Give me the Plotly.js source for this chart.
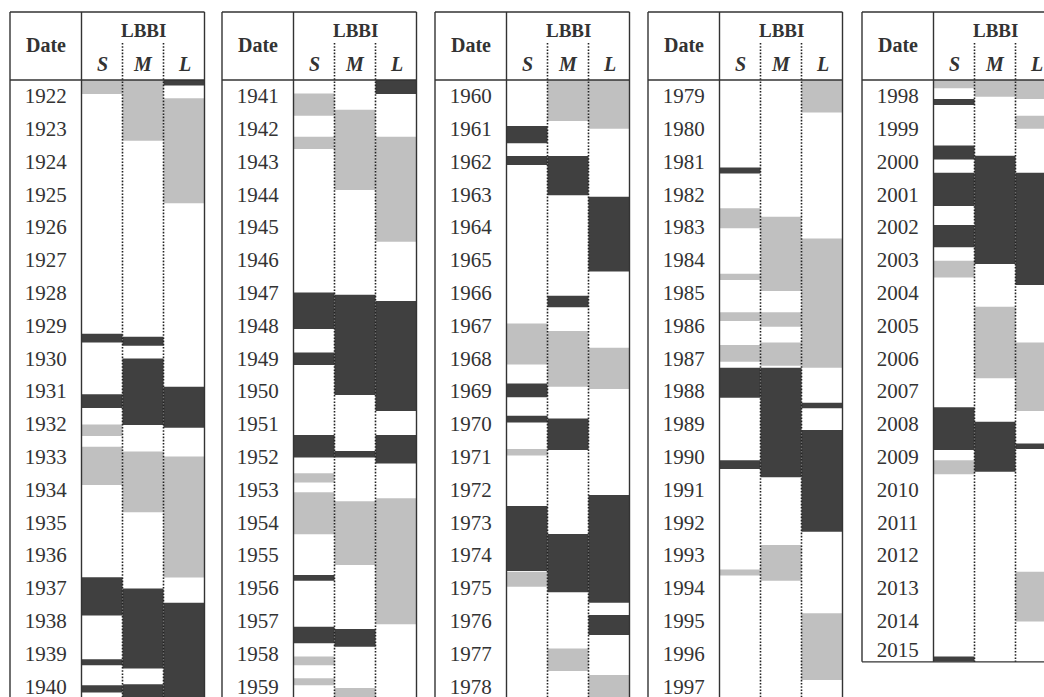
<!DOCTYPE html>
<html>
<head>
<meta charset="utf-8">
<script src="https://cdn.plot.ly/plotly-3.0.1.min.js"></script>
<style>
  html, body { margin: 0; padding: 0; overflow: hidden; background: #fff; }
  #chart { width: 1064px; height: 710px; }
</style>
</head>
<body>
<div id="chart"></div>
<script>
// LBBI episodes per time scale (S, M, L), as [start, end] in decimal years.
const sDark = [[1929.74,1930.00],[1931.58,1932.00],[1937.16,1938.33],[1939.66,1939.84],[1940.45,1940.67],
  [1947.48,1948.59],[1949.31,1949.69],[1951.82,1952.51],[1956.09,1956.27],[1957.67,1958.17],
  [1961.40,1961.93],[1962.32,1962.59],[1969.25,1969.67],[1970.24,1970.44],[1972.99,1974.97],
  [1981.67,1981.85],[1987.77,1988.69],[1990.59,1990.86],
  [1998.58,1998.76],[2000.00,2000.42],[2000.83,2001.84],[2002.42,2003.10],[2007.98,2009.28],[2015.58,2015.74]];
const sLight = [[1922.00,1922.43],[1932.50,1932.85],[1933.18,1934.35],
  [1941.41,1942.09],[1942.73,1943.10],[1952.99,1953.27],[1953.57,1954.85],[1958.58,1958.84],[1959.24,1959.45],
  [1967.42,1968.67],[1971.25,1971.45],[1974.99,1975.45],
  [1982.91,1983.52],[1984.91,1985.10],[1986.08,1986.35],[1987.08,1987.59],[1993.92,1994.11],
  [1998.00,1998.25],[2003.51,2004.02],[2009.59,2010.02]];
const mDark = [[1929.83,1930.10],[1930.49,1932.52],[1937.50,1939.94],[1940.42,1940.95],
  [1947.55,1950.60],[1952.31,1952.51],[1957.74,1958.28],
  [1962.32,1963.51],[1966.58,1966.93],[1970.32,1971.28],[1973.84,1975.62],
  [1987.77,1991.11],[2000.31,2003.61],[2008.42,2009.94]];
const mLight = [[1922.00,1923.85],[1933.33,1935.18],[1941.91,1944.35],[1953.84,1955.79],[1959.54,1961.25],
  [1967.65,1969.35],[1977.33,1978.02],[1983.17,1985.43],[1986.08,1986.52],[1987.00,1987.71],[1993.18,1994.27],
  [1998.00,1998.51],[2004.91,2007.09]];
const lDark = [[1922.00,1922.17],[1931.35,1932.60],[1937.94,1941.43],[1947.74,1951.09],[1951.82,1952.69],
  [1963.56,1965.84],[1972.65,1975.94],[1976.31,1976.92],[1988.84,1989.01],[1989.67,1992.77],
  [2000.83,2004.25],[2009.08,2009.25]];
const lLight = [[1922.56,1925.76],[1933.48,1937.17],[1942.73,1945.93],[1953.75,1957.59],[1960.00,1961.49],
  [1968.16,1969.42],[1978.14,1979.99],[1983.83,1987.77],[1995.26,1997.29],
  [1998.00,1998.58],[1999.09,1999.49],[2006.00,2008.09],[2012.99,2014.51]];

// Row labels of the five table blocks
const years1 = [1922,1923,1924,1925,1926,1927,1928,1929,1930,1931,1932,1933,1934,1935,1936,1937,1938,1939,1940];
const years2 = [1941,1942,1943,1944,1945,1946,1947,1948,1949,1950,1951,1952,1953,1954,1955,1956,1957,1958,1959];
const years3 = [1960,1961,1962,1963,1964,1965,1966,1967,1968,1969,1970,1971,1972,1973,1974,1975,1976,1977,1978];
const years4 = [1979,1980,1981,1982,1983,1984,1985,1986,1987,1988,1989,1990,1991,1992,1993,1994,1995,1996,1997];
const years5 = [1998,1999,2000,2001,2002,2003,2004,2005,2006,2007,2008,2009,2010,2011,2012,2013,2014,2015];
const recordEnd = 2015.74;   // last month covered by the series

const scales = ['S', 'M', 'L'];
const header = 'LBBI';
const dateHeader = 'Date';

// ---- geometry (pixels) ----
const W = 1064, H = 710;
const px = v => v / W;
const py = v => 1 - v / H;
const panelLeft = [10, 222, 435, 648, 862];
const dateW = 71.5, colW = 41;
const topY = 12, headY = 80, dotTop = 43, rowH = 32.8;
const labelShift = 0.05;     // nudges a year label just below the middle of its row

const DARK = '#404040', LIGHT = '#c0c0c0', INK = '#333333';
const FONT = 'Liberation Serif, Times New Roman, serif';

const blocks = [years1, years2, years3, years4, years5];
const series = [
  {col: 'S', segs: sLight, color: LIGHT}, {col: 'S', segs: sDark, color: DARK},
  {col: 'M', segs: mLight, color: LIGHT}, {col: 'M', segs: mDark, color: DARK},
  {col: 'L', segs: lLight, color: LIGHT}, {col: 'L', segs: lDark, color: DARK}
];

const traces = [];
const layout = {
  width: W, height: H,
  margin: {l: 0, r: 0, t: 0, b: 0},
  paper_bgcolor: '#fff', plot_bgcolor: 'rgba(0,0,0,0)',
  showlegend: false, barmode: 'overlay',
  shapes: [], annotations: []
};

blocks.forEach((yrs, p) => {
  const start = yrs[0];
  const end = (p === blocks.length - 1) ? recordEnd : start + yrs.length;
  const L = panelLeft[p], D = L + dateW, R = D + 3 * colW;
  const bottom = headY + (end - start) * rowH;

  const yId = p === 0 ? '' : String(p + 1);
  const xDateId = 2 * p + 1 === 1 ? '' : String(2 * p + 1);
  const xDataId = String(2 * p + 2);

  layout['yaxis' + yId] = {
    domain: [py(bottom), py(headY)], range: [end, start],
    anchor: 'x' + xDataId, visible: false, fixedrange: true
  };
  layout['xaxis' + xDateId] = {
    domain: [px(L), px(D)], range: [0, 1], anchor: 'y' + yId, visible: false, fixedrange: true
  };
  layout['xaxis' + xDataId] = {
    domain: [px(D), px(R)], type: 'category', categoryorder: 'array', categoryarray: scales,
    range: [-0.5, 2.5], anchor: 'y' + yId, visible: false, fixedrange: true
  };

  // shaded episodes
  series.forEach(s => {
    const segs = s.segs.filter(g => g[1] > start && g[0] < end);
    if (!segs.length) return;
    traces.push({
      type: 'bar', xaxis: 'x' + xDataId, yaxis: 'y' + yId,
      x: segs.map(() => s.col),
      base: segs.map(g => g[0]),
      y: segs.map(g => g[1] - g[0]),
      width: 1, marker: {color: s.color, line: {width: 0}},
      hoverinfo: 'skip'
    });
  });

  // year labels in the Date column, centred on the covered part of each row
  traces.push({
    type: 'scatter', mode: 'text', xaxis: 'x' + xDateId, yaxis: 'y' + yId,
    x: yrs.map(() => 0.5),
    y: yrs.map(v => (v + Math.min(v + 1, end)) / 2 + labelShift),
    text: yrs.map(String),
    textposition: 'middle center', cliponaxis: false,
    textfont: {family: FONT, size: 21, color: INK}, hoverinfo: 'skip'
  });

  // table rules
  const solid = {color: INK, width: 1.4};
  const hline = y => ({type: 'line', xref: 'paper', yref: 'paper', x0: px(L), x1: px(R), y0: py(y), y1: py(y), line: solid, layer: 'above'});
  const vline = (x, y0, dash) => ({type: 'line', xref: 'paper', yref: 'paper', x0: px(x), x1: px(x), y0: py(y0), y1: py(bottom),
    line: dash ? {color: '#222', width: 1.6, dash: '1.6px,1.6px'} : solid, layer: 'above'});
  layout.shapes.push(hline(topY), hline(headY), hline(bottom),
    vline(L, topY), vline(D, topY), vline(R, topY),
    vline(D + colW, dotTop, true), vline(D + 2 * colW, dotTop, true));

  // headers
  layout.annotations.push(
    {xref: 'paper', yref: 'paper', x: px((L + D) / 2), y: py(45), text: dateHeader, showarrow: false,
     xanchor: 'center', yanchor: 'middle', font: {family: FONT, size: 20, color: INK, weight: 'bold'}},
    {xref: 'paper', yref: 'paper', x: px(D + 1.5 * colW), y: py(31), text: header, showarrow: false,
     xanchor: 'center', yanchor: 'middle', font: {family: FONT, size: 19, color: INK, weight: 'bold'}}
  );
  scales.forEach((c, i) => layout.annotations.push({
    xref: 'x' + xDataId, yref: 'paper', x: i, y: py(64), text: c, showarrow: false,
    xanchor: 'center', yanchor: 'middle',
    font: {family: FONT, size: 20, color: INK, weight: 'bold', style: 'italic'}
  }));
});

Plotly.newPlot('chart', traces, layout, {staticPlot: true, displayModeBar: false});
</script>
</body>
</html>
